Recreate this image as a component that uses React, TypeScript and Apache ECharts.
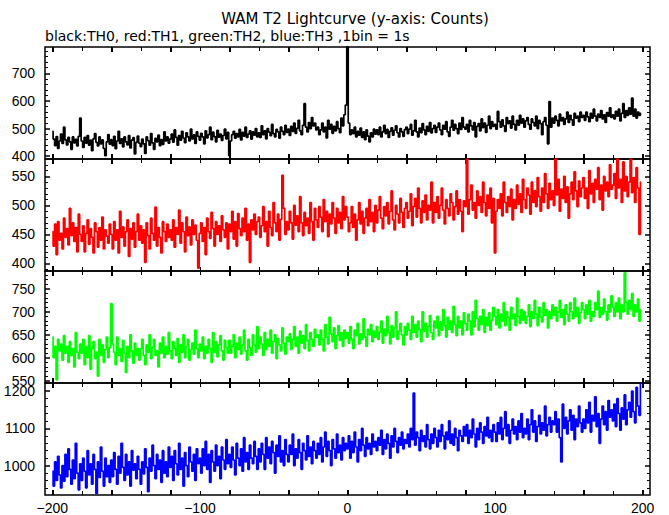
import React, { useEffect, useRef } from "react";
import * as echarts from "echarts";

// ---- data: counts per 1 s bin, t = -200 .. 199 s ----
const T_START = -200;

const TH0 = [
  490,462,438,471,428,455,480,446,505,459,441,468,452,425,470,448,461,437,472,538,
  455,432,468,447,475,440,458,420,463,482,450,437,470,445,459,428,402,452,478,444,
  460,438,472,427,455,490,446,463,434,470,452,441,475,430,458,467,408,450,473,447,
  435,462,445,410,470,456,440,482,448,425,465,452,476,438,460,443,488,455,470,447,
  462,480,451,495,468,440,475,458,490,466,449,485,470,455,498,463,477,446,488,472,
  458,483,470,445,492,466,478,505,460,487,471,452,494,469,480,457,475,498,463,486,
  402,455,478,490,465,482,470,497,459,486,473,505,468,480,492,462,488,476,500,470,
  485,468,510,478,492,463,500,487,474,515,482,470,497,488,465,505,490,478,512,486,
  498,475,508,490,520,483,501,530,492,478,512,590,505,488,522,500,540,510,520,495,
  505,478,495,520,488,505,466,530,498,515,483,508,492,525,500,485,538,510,550,585,
  850,520,478,495,482,505,470,490,476,502,468,488,460,495,473,452,485,470,498,480,
  495,478,505,470,488,512,482,497,468,490,503,476,494,510,485,470,500,488,472,496,
  505,482,498,515,476,492,530,488,470,502,485,518,495,478,508,490,522,484,500,512,
  486,505,520,495,478,512,498,525,488,472,505,530,494,515,500,482,520,497,540,505,
  498,515,488,530,510,495,522,470,508,518,492,535,503,520,486,512,545,500,525,508,
  515,498,562,525,505,532,510,490,540,518,528,502,545,515,495,530,512,548,520,535,
  505,528,540,515,498,535,522,510,545,500,530,518,478,525,540,512,445,598,505,538,
  520,545,530,510,552,528,540,515,535,560,522,548,532,512,555,538,545,525,560,540,
  548,530,560,542,525,555,538,570,545,528,552,540,565,535,550,522,558,545,575,540,
  550,535,562,545,570,528,555,590,540,565,548,575,552,610,545,570,538,560,548,555,
];

const TH1 = [
  455,430,468,415,472,440,452,425,478,445,460,432,495,448,470,438,462,420,485,450,
  438,465,420,452,475,433,460,445,418,470,455,428,462,440,480,425,458,447,435,468,
  450,425,472,440,458,418,490,445,463,430,455,475,412,460,442,470,428,455,485,440,
  465,435,458,402,470,448,425,478,452,440,497,430,462,445,418,472,455,438,468,445,
  458,440,475,428,462,450,492,435,470,455,420,480,448,463,432,475,450,466,440,392,
  452,470,438,462,415,478,455,443,488,460,430,472,450,465,438,482,458,445,470,425,
  468,455,490,442,472,430,486,460,448,478,455,495,440,468,402,475,458,485,450,472,
  480,445,465,498,455,472,430,490,462,448,505,470,455,485,440,476,552,495,450,472,
  458,490,470,442,500,466,482,455,515,470,448,488,465,478,452,505,472,440,495,475,
  462,498,480,455,510,472,490,446,485,468,505,478,452,495,470,488,460,515,475,498,
  480,455,470,498,462,485,440,475,505,468,490,452,478,495,465,510,472,488,455,500,
  470,492,515,478,460,498,482,505,468,490,525,475,458,500,485,470,512,488,462,495,
  505,478,490,520,465,498,512,480,530,495,470,508,488,518,475,500,492,540,470,505,
  488,515,478,500,530,492,468,510,495,482,520,505,475,498,525,485,510,490,455,508,
  498,580,485,510,535,492,505,478,525,500,515,488,540,505,482,518,495,530,470,512,
  418,490,510,495,520,482,540,505,488,515,498,528,475,510,495,535,502,520,488,545,
  510,495,530,518,485,540,505,525,498,548,515,490,530,505,555,520,495,538,510,525,
  500,580,518,545,490,528,512,550,505,532,478,520,540,510,558,525,498,542,515,530,
  548,512,530,495,560,520,538,505,545,528,565,510,535,492,550,525,540,515,570,528,
  535,555,512,580,530,545,505,575,525,550,515,540,580,522,548,505,565,530,450,540,
];

const TH2 = [
  645,600,625,552,640,615,630,595,648,610,625,590,635,605,620,580,655,612,598,630,
  610,640,585,625,600,648,575,620,635,598,612,560,640,605,628,590,618,645,600,622,
  718,630,612,585,645,605,620,592,638,610,568,625,600,650,615,588,632,605,620,595,
  620,640,605,585,628,612,650,598,622,640,605,615,580,632,610,645,600,625,608,655,
  615,598,635,620,605,642,590,628,612,650,600,625,640,595,618,632,608,660,620,600,
  630,615,645,598,625,610,640,620,590,655,612,635,602,628,648,615,595,638,622,610,
  638,610,625,650,600,632,618,645,608,628,660,615,595,640,622,605,650,628,612,668,
  620,645,630,605,655,618,640,625,660,610,635,650,598,642,628,615,665,632,608,645,
  635,652,618,640,668,625,645,610,658,632,648,620,672,638,615,655,640,625,662,645,
  650,628,660,640,615,672,645,630,688,652,635,665,620,648,670,638,655,625,660,642,
  655,632,668,640,620,660,648,675,630,652,640,685,645,625,662,650,672,635,658,645,
  668,640,655,680,632,662,648,690,655,630,670,645,665,700,640,658,675,650,628,668,
  650,675,660,640,690,655,672,645,680,662,635,700,658,675,645,668,692,655,640,680,
  665,690,648,678,660,705,670,645,688,662,680,655,712,672,648,690,665,680,650,698,
  675,660,695,680,650,700,668,725,685,660,690,672,705,655,688,670,698,660,682,710,
  690,672,705,665,695,680,720,670,700,688,660,710,685,695,670,730,690,675,705,682,
  700,675,690,715,668,700,685,725,695,670,710,688,678,720,692,705,665,700,685,715,
  692,710,680,700,725,688,705,672,715,695,680,720,700,685,730,690,710,675,698,720,
  705,685,715,695,725,680,700,690,720,705,745,688,710,695,728,700,682,715,700,735,
  710,690,720,700,730,685,715,700,785,720,695,725,705,740,690,715,700,728,680,705,
];

const TH3 = [
  985,945,1010,960,1025,975,940,1000,958,1030,970,1045,990,950,1015,965,1060,980,935,1005,
  960,1020,985,940,1040,975,1005,950,1030,990,925,1010,968,1050,985,945,1020,970,1000,955,
  1015,970,1035,990,950,1025,980,1060,995,960,1030,975,1010,945,1040,988,1005,965,1025,990,
  950,1010,978,1045,995,930,1020,985,1055,1000,965,1030,990,1015,955,1040,980,1010,970,1050,
  995,1025,960,1040,1005,975,1060,990,1020,945,1035,1000,970,1050,1010,985,1030,960,1045,1005,
  1020,980,1045,1000,1065,990,1030,955,1040,1010,985,1055,1000,1025,965,1050,1015,990,1070,1005,
  1030,995,1050,1015,975,1060,1020,1000,1045,985,1075,1010,1035,990,1055,1020,1005,1065,1025,990,
  1045,1010,1060,1030,990,1075,1020,1050,1005,1065,1035,980,1055,1025,1080,1010,1040,1000,1070,1030,
  1010,1055,1030,1085,1000,1045,1020,1070,1035,990,1060,1040,1015,1080,1025,1050,1005,1065,1040,1020,
  1060,1030,1075,1010,1050,1090,1025,1065,1040,1000,1070,1045,1020,1085,1035,1055,1015,1075,1040,1060,
  1045,1080,1020,1065,1035,1090,1050,1010,1070,1040,1100,1055,1025,1075,1045,1060,1030,1085,1050,1065,
  1040,1075,1055,1095,1030,1070,1045,1085,1060,1020,1080,1050,1100,1065,1035,1075,1055,1090,1045,1070,
  1060,1085,1050,1100,1070,1195,1055,1090,1075,1040,1095,1065,1080,1050,1110,1070,1045,1085,1060,1100,
  1075,1050,1095,1065,1110,1080,1045,1090,1070,1120,1060,1085,1055,1100,1075,1040,1095,1080,1065,1105,
  1080,1110,1060,1095,1075,1125,1085,1050,1100,1070,1115,1090,1060,1105,1080,1130,1075,1095,1065,1110,
  1090,1065,1115,1085,1130,1070,1100,1145,1080,1110,1060,1095,1125,1085,1105,1070,1120,1090,1140,1075,
  1100,1085,1125,1070,1110,1150,1090,1120,1065,1105,1135,1085,1115,1095,1160,1080,1110,1130,1090,1120,
  1110,1145,1090,1125,1075,1010,1165,1100,1130,1085,1120,1150,1095,1135,1070,1125,1105,1160,1115,1090,
  1125,1100,1150,1115,1170,1090,1135,1120,1185,1105,1140,1060,1125,1160,1110,1145,1095,1175,1130,1150,
  1120,1165,1105,1180,1140,1095,1155,1125,1190,1110,1150,1170,1130,1200,1145,1115,1210,1160,1135,1220,
];

// ---- axes / ticks ----
const X_RANGE = [-205, 205];
const X_LABELS = [-200, -100, 0, 100, 200];
const X_MAJOR = [-200, -160, -120, -80, -40, 0, 40, 80, 120, 160, 200];
const X_MINOR = [-180, -140, -100, -60, -20, 20, 60, 100, 140, 180];

const Y0_RANGE = [390, 795];
const Y0_MAJOR = [400, 500, 600, 700];
const Y0_MINOR = [420, 440, 460, 480, 520, 540, 560, 580, 620, 640, 660, 680, 720, 740, 760, 780];

const Y1_RANGE = [387, 580];
const Y1_MAJOR = [400, 450, 500, 550];
const Y1_MINOR = [390, 410, 420, 430, 440, 460, 470, 480, 490, 510, 520, 530, 540, 560, 570];

const Y2_RANGE = [545, 789];
const Y2_MAJOR = [550, 600, 650, 700, 750];
const Y2_MINOR = [560, 570, 580, 590, 610, 620, 630, 640, 660, 670, 680, 690, 710, 720, 730, 740, 760, 770, 780];

const Y3_RANGE = [921, 1222];
const Y3_MAJOR = [1000, 1100, 1200];
const Y3_MINOR = [940, 960, 980, 1020, 1040, 1060, 1080, 1120, 1140, 1160, 1180, 1220];

const TITLE = "WAM T2 Lightcurve (y-axis: Counts)";
const SUBTITLE = "black:TH0, red:TH1, green:TH2, blue:TH3 ,1bin = 1s";

const PANELS = [
  { data: TH0, color: "#000000", range: Y0_RANGE, major: Y0_MAJOR, minor: Y0_MINOR },
  { data: TH1, color: "#ff0000", range: Y1_RANGE, major: Y1_MAJOR, minor: Y1_MINOR },
  { data: TH2, color: "#00ff00", range: Y2_RANGE, major: Y2_MAJOR, minor: Y2_MINOR },
  { data: TH3, color: "#0000ff", range: Y3_RANGE, major: Y3_MAJOR, minor: Y3_MINOR },
];

const GRID_TOPS = [47, 159, 271, 383];
const GRID_HEIGHTS = [112, 112, 112, 113];
const FONT = "Liberation Sans";

function buildOption() {
  const grid: any[] = [];
  const xAxis: any[] = [];
  const yAxis: any[] = [];
  const series: any[] = [];

  PANELS.forEach((p, i) => {
    grid.push({
      left: 45,
      width: 605,
      top: GRID_TOPS[i],
      height: GRID_HEIGHTS[i],
      show: true,
      borderColor: "#000",
      borderWidth: 1.5,
      backgroundColor: "transparent",
    });
    const isLast = i === PANELS.length - 1;
    const xBase = {
      type: "value",
      gridIndex: i,
      min: X_RANGE[0],
      max: X_RANGE[1],
      axisLine: { show: false, onZero: false },
      splitLine: { show: false },
    };
    const xStart = xAxis.length;
    xAxis.push({
      ...xBase,
      position: "bottom",
      axisTick: { inside: true, length: 5, lineStyle: { color: "#000", width: 2 }, customValues: X_MAJOR },
      axisLabel: {
        show: isLast,
        customValues: X_LABELS,
        margin: 6,
        color: "#000",
        fontFamily: FONT,
        fontSize: 14,
        formatter: (v: number) => String(v).replace("-", "\u2212"),
      },
    });
    xAxis.push({
      ...xBase,
      position: "bottom",
      axisTick: { inside: true, length: 4, lineStyle: { color: "#000", width: 1 }, customValues: X_MINOR },
      axisLabel: { show: false },
    });
    xAxis.push({
      ...xBase,
      position: "top",
      axisTick: { inside: true, length: 5, lineStyle: { color: "#000", width: 2 }, customValues: X_MAJOR },
      axisLabel: { show: false },
    });
    xAxis.push({
      ...xBase,
      position: "top",
      axisTick: { inside: true, length: 4, lineStyle: { color: "#000", width: 1 }, customValues: X_MINOR },
      axisLabel: { show: false },
    });

    const yBase = {
      type: "value",
      gridIndex: i,
      min: p.range[0],
      max: p.range[1],
      axisLine: { show: false, onZero: false },
      splitLine: { show: false },
    };
    const yStart = yAxis.length;
    yAxis.push({
      ...yBase,
      position: "left",
      axisTick: { inside: true, length: 5, lineStyle: { color: "#000", width: 1.5 }, customValues: p.major },
      axisLabel: {
        customValues: p.major,
        margin: 10,
        color: "#000",
        fontFamily: FONT,
        fontSize: 14,
        formatter: (v: number) => String(v),
      },
    });
    yAxis.push({
      ...yBase,
      position: "left",
      axisTick: { inside: true, length: 3, lineStyle: { color: "#000", width: 1 }, customValues: p.minor },
      axisLabel: { show: false },
    });
    yAxis.push({
      ...yBase,
      position: "right",
      axisTick: { inside: true, length: 5, lineStyle: { color: "#000", width: 1.5 }, customValues: p.major },
      axisLabel: { show: false },
    });
    yAxis.push({
      ...yBase,
      position: "right",
      axisTick: { inside: true, length: 3, lineStyle: { color: "#000", width: 1 }, customValues: p.minor },
      axisLabel: { show: false },
    });

    series.push({
      type: "line",
      xAxisIndex: xStart,
      yAxisIndex: yStart,
      step: "middle",
      symbol: "none",
      clip: true,
      lineStyle: { color: p.color, width: 1.7 },
      data: p.data.map((v, k) => [T_START + k, v]),
    });
  });

  return {
    animation: false,
    backgroundColor: "#fff",
    grid,
    xAxis,
    yAxis,
    series,
    graphic: [
      {
        type: "text",
        x: 355,
        y: 19,
        style: {
          text: TITLE,
          fill: "#000",
          font: `15px "DejaVu Sans"`,
          textAlign: "center",
          textVerticalAlign: "middle",
        },
      },
      {
        type: "text",
        x: 45,
        y: 36,
        style: {
          text: SUBTITLE,
          fill: "#000",
          font: `14px "DejaVu Sans"`,
          textAlign: "left",
          textVerticalAlign: "middle",
        },
      },
    ],
  };
}

export default function App() {
  const ref = useRef<HTMLDivElement>(null);
  useEffect(() => {
    if (!ref.current) return;
    const chart = echarts.init(ref.current, null, { renderer: "svg" });
    chart.setOption(buildOption() as any);
    return () => chart.dispose();
  }, []);
  return (
    <div
      ref={ref}
      style={{ position: "absolute", left: 0, top: 0, width: 669, height: 515, background: "#fff" }}
    />
  );
}
